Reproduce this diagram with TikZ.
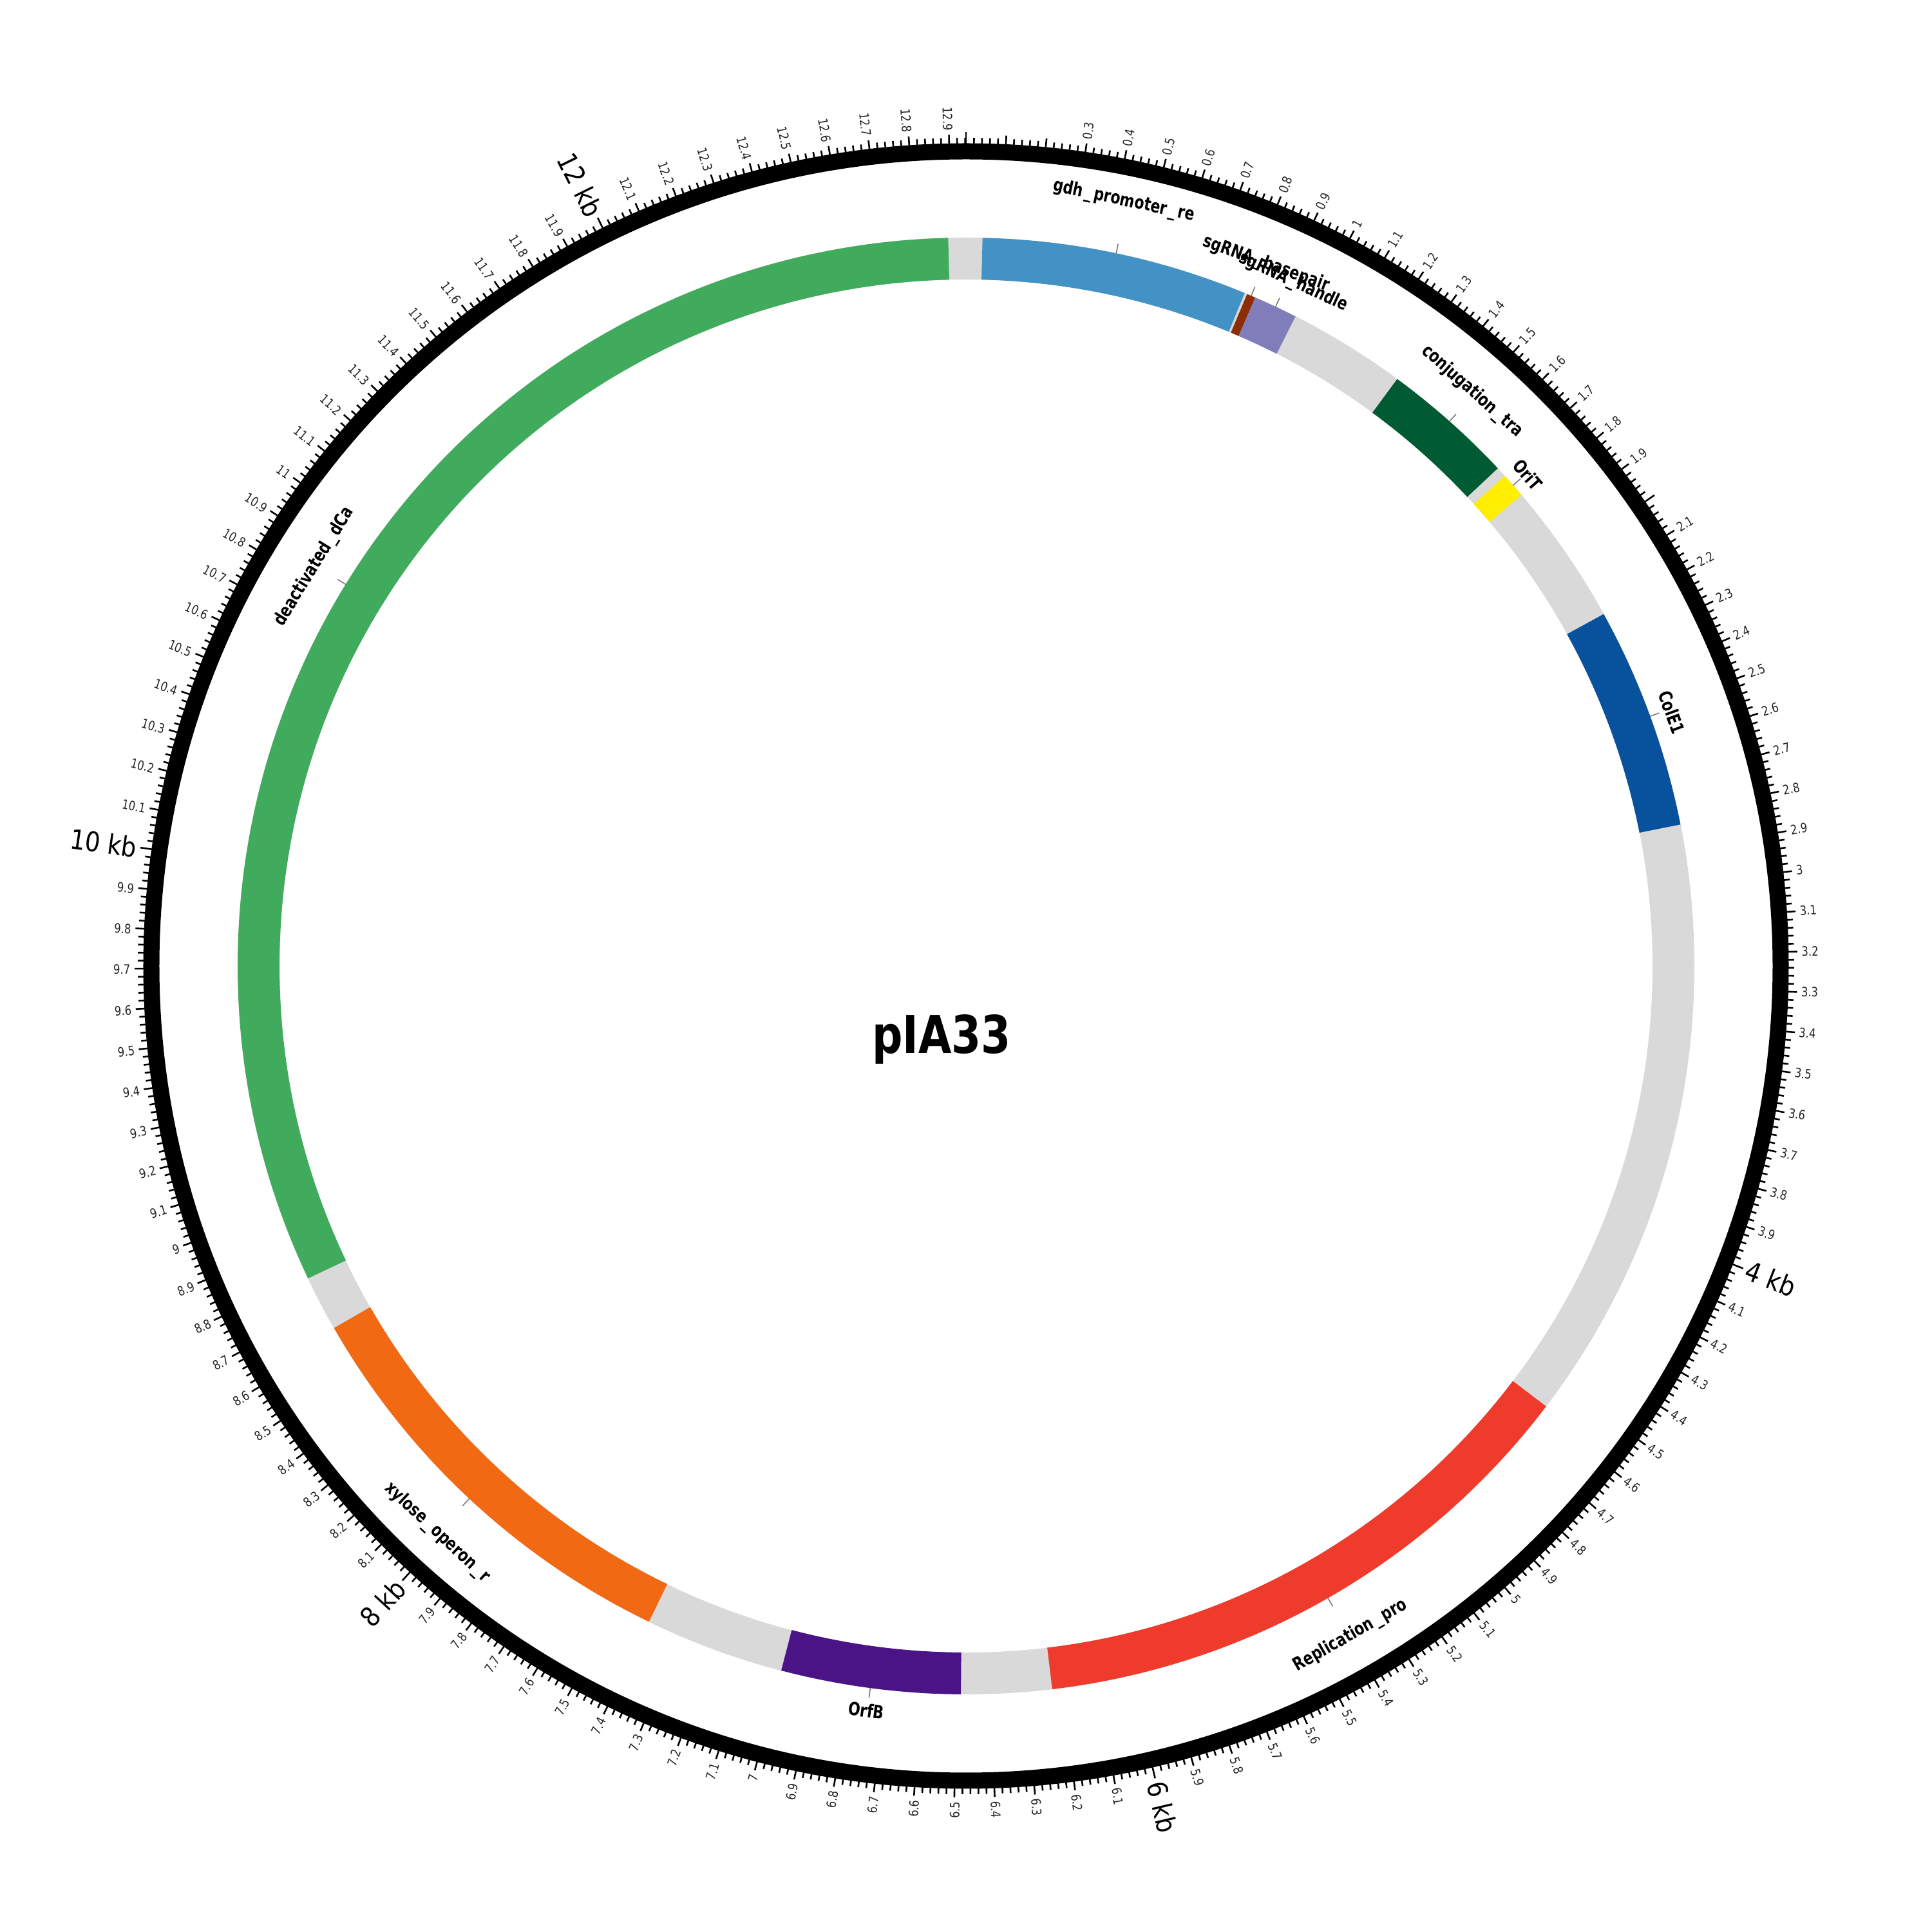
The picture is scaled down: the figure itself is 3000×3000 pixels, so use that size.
\documentclass[tikz,border=0pt]{standalone}
\usepackage{fontspec}
\newfontfamily\tickfont[FakeStretch=0.82]{DejaVu Sans}
\newfontfamily\kbfont[FakeStretch=0.88]{DejaVu Sans}
\newfontfamily\labfont[FakeStretch=0.78]{DejaVu Sans}
\newfontfamily\titlefont[FakeStretch=0.82]{DejaVu Sans}
\definecolor{bb}{HTML}{D9D9D9}
\definecolor{cgreen}{HTML}{41AB5D}
\definecolor{cblue}{HTML}{4292C6}
\definecolor{cbrown}{HTML}{8C2D04}
\definecolor{clpurple}{HTML}{807DBA}
\definecolor{cdgreen}{HTML}{005A32}
\definecolor{cyellow}{HTML}{FFEE00}
\definecolor{cdblue}{HTML}{08519C}
\definecolor{cred}{HTML}{EF3B2C}
\definecolor{cdpurple}{HTML}{4A1486}
\definecolor{corange}{HTML}{F16913}
\newcommand\plus{\kern0.12em\_\kern0.12em}
\newcommand\plfeat[3]{\draw[line width=6.5mm,#3] ({90-#1}:1098.5) arc[start angle={90-#1}, end angle={90-#2}, radius=109.85mm];}
\newcommand\plleader[1]{\draw[leader] ({90-#1}:1131) -- ({90-#1}:1146);}
\begin{document}
\begin{tikzpicture}[x=0.1mm,y=0.1mm,
  tickmark/.style={line width=0.26mm, black},
  ticklab/.style={font=\tickfont\fontsize{5.7}{6}\selectfont, text=black!85, inner sep=0pt},
  kblab/.style={font=\kbfont\fontsize{12}{13}\selectfont, text=black, inner sep=0pt},
  featlab/.style={font=\labfont\bfseries\fontsize{8}{9}\selectfont, text=black, inner sep=0pt},
  leader/.style={line width=0.15mm, black!55}]
\useasboundingbox (-1500,-1500) rectangle (1500,1500);
\fill[white] (-1500,-1500) rectangle (1500,1500);
% outer ruler ring
\draw[line width=2.5mm, black] (0,0) circle[radius=126.5mm];
\foreach \i in {0,...,647}{
  \pgfmathsetmacro\tkP{90-\i*0.02*360/12.945}
  \pgfmathtruncatemacro\tkM{mod(\i,5)}
  \pgfmathtruncatemacro\tkK{mod(\i,100)}
  \ifnum\tkM=0
    \ifnum\tkK=0
      \draw[tickmark] (\tkP:1277) -- (\tkP:1295);
    \else
      \draw[tickmark] (\tkP:1277) -- (\tkP:1291);
    \fi
  \else
    \draw[tickmark] (\tkP:1277) -- (\tkP:1286);
  \fi
}
\foreach \k in {3,...,129}{
  \pgfmathtruncatemacro\tkI{div(\k,10)}
  \pgfmathtruncatemacro\tkD{mod(\k,10)}
  \pgfmathtruncatemacro\tkE{mod(\k,20)}
  \pgfmathsetmacro\tkT{\k*36/12.945}
  \pgfmathsetmacro\tkP{90-\tkT}
  \pgfmathsetmacro\tkQ{270-\tkT}
  \ifnum\tkE=0 \else
    \ifnum\tkD=0 \edef\tkS{\tkI}\else\edef\tkS{\tkI.\tkD}\fi
    \ifdim\tkT pt<180pt
      \node[ticklab, anchor=west, rotate=\tkP] (tl\k) at (\tkP:1297) {\tkS};
    \else
      \node[ticklab, anchor=east, rotate=\tkQ] (tl\k) at (\tkP:1297) {\tkS};
    \fi
  \fi
}
\foreach \n in {4,6}{
  \pgfmathsetmacro\tkP{90-\n*360/12.945}
  \node[kblab, anchor=west, rotate=\tkP] (kb\n) at (\tkP:1300) {\n\ kb};
}
\foreach \n in {8,10,12}{
  \pgfmathsetmacro\tkP{90-\n*360/12.945}
  \pgfmathsetmacro\tkQ{270-\n*360/12.945}
  \node[kblab, anchor=east, rotate=\tkQ] (kb\n) at (\tkP:1300) {\n\ kb};
}
% backbone and features
\draw[line width=6.5mm, bb] (0,0) circle[radius=109.85mm];
\plfeat{1.3}{22.5}{cblue}
\plfeat{22.7}{23.4}{cbrown}
\plfeat{23.4}{26.9}{clpurple}
\plfeat{36.3}{46.9}{cdgreen}
\plfeat{47.7}{49.7}{cyellow}
\plfeat{61.1}{78.8}{cdblue}
\plfeat{127.2}{173.2}{cred}
\plfeat{180.4}{194.7}{cdpurple}
\plfeat{205.8}{240.2}{corange}
\plfeat{244.6}{358.6}{cgreen}
% leaders
\plleader{11.9}
\plleader{23.05}
\plleader{25.15}
\plleader{41.6}
\plleader{48.7}
\plleader{69.95}
\plleader{150.2}
\plleader{187.55}
\plleader{223.0}
\plleader{301.6}
% feature labels
\node[featlab, rotate=-12] (l1) at (245,1188) {gdh\plus promoter\plus re};
\node[featlab, rotate=-20] (l2) at (466,1090) {sgRNA\plus basepair};
\node[featlab, rotate=-25] (l3) at (508,1062) {sgRNA\plus handle};
\node[featlab, rotate=-41.6] (l4) at (786,892) {conjugation\plus tra};
\node[featlab, rotate=-48.7] (l5) at (872,763) {OriT};
\node[featlab, rotate=-70] (l6) at (1096,394) {ColE1};
\node[featlab, rotate=29.8] (l7) at (597,-1040) {Replication\plus pro};
\node[featlab, rotate=-7.5] (l8) at (-155,-1156) {OrfB};
\node[featlab, rotate=-43] (l9) at (-821,-880) {xylose\plus operon\plus r};
\node[featlab, rotate=58.4] (l10) at (-1012,620) {deactivated\plus dCa};
% title
\node[font=\titlefont\bfseries\fontsize{23}{25}\selectfont, inner sep=0pt] (title) at (-38,-114) {pIA33};
\end{tikzpicture}
\end{document}
